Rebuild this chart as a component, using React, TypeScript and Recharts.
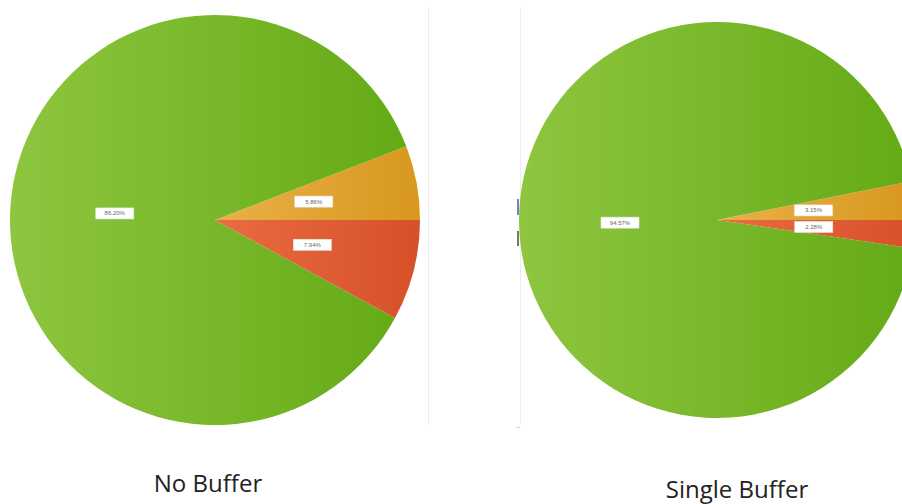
import React from 'react';
import { PieChart, Pie, Cell } from 'recharts';

const categories = ['Segment A', 'Segment B', 'Segment C'];
const noBufferValues = [5.86, 86.2, 7.94];
const singleBufferValues = [3.15, 94.57, 2.28];
const chartTitles = ['No Buffer', 'Single Buffer'];

const fills = ['url(#gOrange)', 'url(#gGreen)', 'url(#gRed)'];

const noBufferData = categories.map((name, i) => ({ name, value: noBufferValues[i] }));
const singleBufferData = categories.map((name, i) => ({ name, value: singleBufferValues[i] }));

const RAD = Math.PI / 180;

const renderLabel = (props: any) => {
  const { cx, cy, midAngle, outerRadius, value } = props;
  const r = outerRadius * 0.49;
  const x = cx + r * Math.cos(-midAngle * RAD);
  const y = cy + r * Math.sin(-midAngle * RAD);
  return (
    <g>
      <rect x={x - 19} y={y - 5.5} width={38} height={11} fill="#ffffff" stroke="#e8e8e8" strokeWidth={0.6} />
      <text x={x} y={y + 2} textAnchor="middle" fontSize={6} fill="#666" fontFamily="Arial, sans-serif">
        {`${value.toFixed(2)}%`}
      </text>
    </g>
  );
};

const App = () => {
  return (
    <div style={{ position: 'absolute', left: 0, top: 0, width: 902, height: 504, background: '#fff', overflow: 'hidden' }}>
      <div style={{ position: 'absolute', left: 428, top: 7, width: 1, height: 418, background: '#ececec' }} />
      <div style={{ position: 'absolute', left: 520, top: 7, width: 1, height: 418, background: '#ececec' }} />
      <div style={{ position: 'absolute', left: 517, top: 199, width: 2, height: 16, background: '#7c7cc8' }} />
      <div style={{ position: 'absolute', left: 517, top: 231, width: 2, height: 15, background: '#777' }} />
      <PieChart width={902} height={504} margin={{ top: 0, right: 0, bottom: 0, left: 0 }}>
        <defs>
          <linearGradient id="gGreen" x1="0" y1="0" x2="1" y2="0">
            <stop offset="0%" stopColor="#8ec63f" />
            <stop offset="100%" stopColor="#64aa16" />
          </linearGradient>
          <linearGradient id="gOrange" x1="0" y1="0" x2="1" y2="0">
            <stop offset="0%" stopColor="#eab048" />
            <stop offset="100%" stopColor="#d8981e" />
          </linearGradient>
          <linearGradient id="gRed" x1="0" y1="0" x2="1" y2="0">
            <stop offset="0%" stopColor="#ea6c40" />
            <stop offset="100%" stopColor="#d6502a" />
          </linearGradient>
        </defs>
        <Pie
          data={noBufferData}
          dataKey="value"
          cx={215}
          cy={220}
          outerRadius={205}
          startAngle={0}
          endAngle={360}
          stroke="none"
          label={renderLabel}
          labelLine={false}
          isAnimationActive={false}
        >
          {noBufferData.map((d, i) => (
            <Cell key={d.name} fill={fills[i]} />
          ))}
        </Pie>
        <Pie
          data={singleBufferData}
          dataKey="value"
          cx={717}
          cy={220}
          outerRadius={198}
          startAngle={0}
          endAngle={360}
          stroke="none"
          label={renderLabel}
          labelLine={false}
          isAnimationActive={false}
        >
          {singleBufferData.map((d, i) => (
            <Cell key={d.name} fill={fills[i]} />
          ))}
        </Pie>
      </PieChart>
      <div style={{ position: 'absolute', left: 108, width: 200, top: 466, textAlign: 'center', fontFamily: '"Open Sans", sans-serif', fontSize: 24, color: '#222', whiteSpace: 'nowrap' }}>
        {chartTitles[0]}
      </div>
      <div style={{ position: 'absolute', left: 637, width: 200, top: 472, textAlign: 'center', fontFamily: '"Open Sans", sans-serif', fontSize: 24, color: '#222', whiteSpace: 'nowrap' }}>
        {chartTitles[1]}
      </div>
      <div style={{ position: 'absolute', left: 516, top: 421, fontSize: 8, color: '#888', fontFamily: 'Arial' }}>..</div>
    </div>
  );
};

export default App;
